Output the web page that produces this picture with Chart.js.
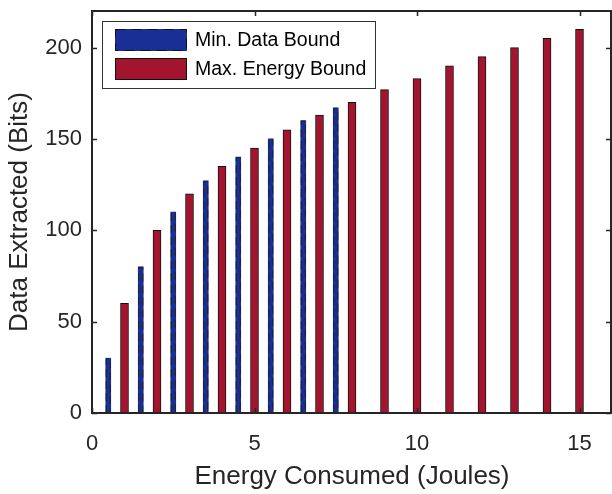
<!DOCTYPE html>
<html>
<head>
<meta charset="utf-8">
<script src="https://cdn.jsdelivr.net/npm/chart.js@4/dist/chart.umd.min.js"></script>
<style>
  html, body { margin: 0; padding: 0; background: #fff; }
  canvas { display: block; }
</style>
</head>
<body>
<canvas id="chart" width="612" height="494"></canvas>
<script>
// energy (J) / bits
const minDataEnergy = [0.5, 1.5, 2.5, 3.5, 4.5, 5.5, 6.5, 7.5];
const minDataBits = [30, 80, 110, 127, 140, 150, 160, 167];
const maxEnergyEnergy = [1, 2, 3, 4, 5, 6, 7, 8, 9, 10, 11, 12, 13, 14, 15];
const maxEnergyBits = [60, 100, 120, 135, 145, 155, 163, 170, 177, 183, 190, 195, 200, 205, 210];
const xTicks = [0, 5, 10, 15];
const yTicks = [0, 50, 100, 150, 200];
const legendLabels = ['Min. Data Bound', 'Max. Energy Bound'];

const blue = '#1a2f96';
const red = '#a3152f';
const axisColor = '#262626';
const fontFamily = '"Liberation Sans", Arial, Helvetica, sans-serif';

const toPoints = (xs, ys) => xs.map((x, i) => ({ x: x, y: ys[i] }));

// frame + inward ticks, dashed outline for blue bars, legend box
const decorations = {
  id: 'decorations',
  afterDatasetsDraw(chart) {
    const ctx = chart.ctx;
    const meta = chart.getDatasetMeta(0);
    ctx.save();
    ctx.strokeStyle = '#222';
    ctx.lineWidth = 1;
    ctx.setLineDash([8, 4]);
    meta.data.forEach(bar => {
      const half = bar.width / 2;
      ctx.beginPath();
      ctx.moveTo(bar.x - half + 0.5, bar.base);
      ctx.lineTo(bar.x - half + 0.5, bar.y + 0.5);
      ctx.lineTo(bar.x + half - 0.5, bar.y + 0.5);
      ctx.lineTo(bar.x + half - 0.5, bar.base);
      ctx.stroke();
    });
    ctx.restore();
  },
  afterDraw(chart) {
    const ctx = chart.ctx;
    const area = chart.chartArea;
    const xs = chart.scales.x;
    const ys = chart.scales.y;
    ctx.save();
    ctx.strokeStyle = axisColor;
    ctx.lineWidth = 2;
    ctx.strokeRect(area.left, area.top, area.right - area.left - 1, area.bottom - area.top);
    ctx.lineWidth = 1.5;
    const tl = 5;
    ctx.beginPath();
    xTicks.forEach(v => {
      const px = Math.round(xs.getPixelForValue(v)) + 0.5;
      ctx.moveTo(px, area.bottom);
      ctx.lineTo(px, area.bottom - tl);
      ctx.moveTo(px, area.top);
      ctx.lineTo(px, area.top + tl);
    });
    yTicks.forEach(v => {
      const py = Math.round(ys.getPixelForValue(v)) + 0.5;
      ctx.moveTo(area.left, py);
      ctx.lineTo(area.left + tl, py);
      ctx.moveTo(area.right - 1, py);
      ctx.lineTo(area.right - 1 - tl, py);
    });
    ctx.stroke();

    // legend
    const box = { x: 102, y: 21, w: 273, h: 67 };
    ctx.fillStyle = '#fff';
    ctx.fillRect(box.x, box.y, box.w, box.h);
    ctx.strokeStyle = '#333';
    ctx.lineWidth = 1;
    ctx.strokeRect(box.x + 0.5, box.y + 0.5, box.w, box.h);
    const rows = [
      { y: 29, color: blue, dashed: true },
      { y: 58, color: red, dashed: false }
    ];
    ctx.font = '19.5px ' + fontFamily;
    ctx.textBaseline = 'middle';
    rows.forEach((r, i) => {
      ctx.fillStyle = r.color;
      ctx.fillRect(115, r.y, 72, 22);
      ctx.strokeStyle = '#111';
      ctx.lineWidth = 1;
      ctx.setLineDash(r.dashed ? [10, 6] : []);
      ctx.strokeRect(115.5, r.y + 0.5, 71, 21);
      ctx.setLineDash([]);
      ctx.fillStyle = '#000';
      ctx.fillText(legendLabels[i], 195, r.y + 12);
    });
    ctx.restore();
  }
};

new Chart(document.getElementById('chart'), {
  type: 'bar',
  data: {
    datasets: [
      {
        label: legendLabels[0],
        data: toPoints(minDataEnergy, minDataBits),
        backgroundColor: blue,
        borderWidth: 0,
        barThickness: 5,
        grouped: false
      },
      {
        label: legendLabels[1],
        data: toPoints(maxEnergyEnergy, maxEnergyBits),
        backgroundColor: red,
        borderColor: '#111',
        borderWidth: 1,
        barThickness: 8,
        grouped: false
      }
    ]
  },
  options: {
    responsive: false,
    animation: false,
    layout: { padding: { top: 11, right: 0, left: 0, bottom: 0 } },
    plugins: {
      legend: { display: false },
      tooltip: { enabled: false }
    },
    scales: {
      x: {
        type: 'linear',
        min: 0,
        max: 16,
        offset: false,
        afterBuildTicks: s => { s.ticks = xTicks.map(v => ({ value: v })); },
        afterFit: s => { s.height = 81; s.paddingLeft = 0; s.paddingRight = 0; },
        grid: { display: false, drawTicks: false, offset: false },
        border: { display: false },
        ticks: {
          padding: 18,
          color: axisColor,
          font: { family: fontFamily, size: 22 }
        },
        title: {
          display: true,
          text: 'Energy Consumed (Joules)',
          color: axisColor,
          font: { family: fontFamily, size: 26 },
          padding: { top: 0, bottom: 2 }
        }
      },
      y: {
        min: 0,
        max: 220,
        afterBuildTicks: s => { s.ticks = yTicks.map(v => ({ value: v })); },
        afterFit: s => { s.width = 92; s.paddingTop = 0; s.paddingBottom = 0; },
        grid: { display: false, drawTicks: false },
        border: { display: false },
        ticks: {
          padding: 10,
          color: axisColor,
          font: { family: fontFamily, size: 22 }
        },
        title: {
          display: true,
          text: 'Data Extracted (Bits)',
          color: axisColor,
          font: { family: fontFamily, size: 26 },
          padding: { top: 4, bottom: 0 }
        }
      }
    }
  },
  plugins: [decorations]
});
</script>
</body>
</html>
